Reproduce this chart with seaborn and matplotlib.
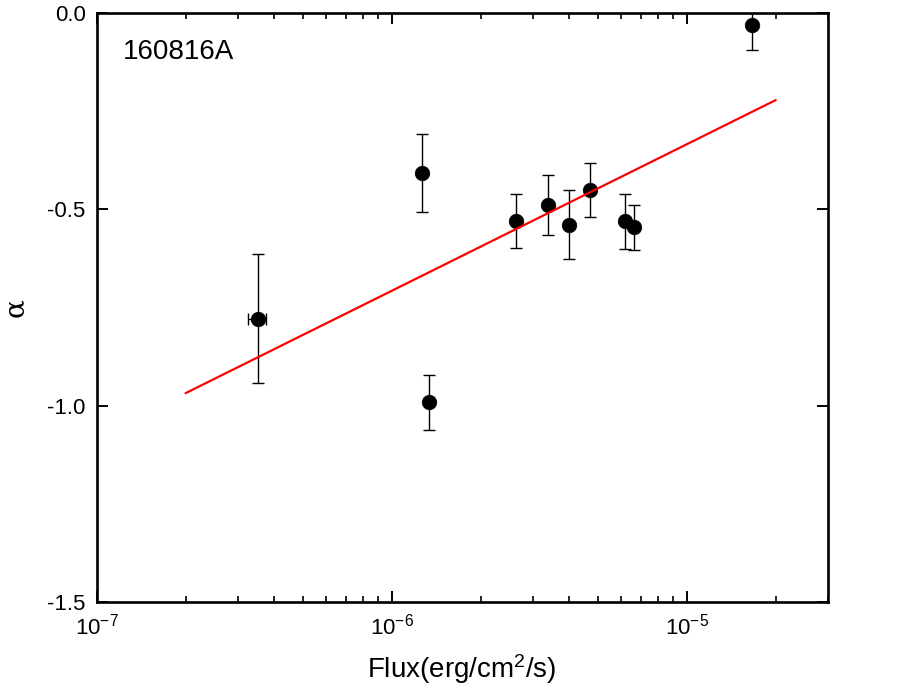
import matplotlib
matplotlib.use("Agg")
import matplotlib.pyplot as plt
import matplotlib.ticker as mticker
import numpy as np
import pandas as pd
import seaborn as sns

# data
flux = [3.51e-7, 1.34e-6, 1.27e-6, 2.64e-6, 3.38e-6, 3.98e-6, 4.68e-6, 6.15e-6, 6.61e-6, 1.66e-5]
flux_err = [0.25e-7, 0, 0, 0, 0, 0, 0, 0, 0, 0]
alpha = [-0.778, -0.991, -0.408, -0.530, -0.489, -0.539, -0.451, -0.530, -0.546, -0.032]
alpha_err = [0.164, 0.070, 0.100, 0.068, 0.077, 0.087, 0.068, 0.070, 0.058, 0.062]

# linear fit in log flux
fit_flux = [2e-7, 2e-5]
fit_alpha = [-0.968, -0.222]

grb_name = "160816A"

sns.set_theme(style="ticks")
plt.rcParams['font.family'] = ['Liberation Sans', 'DejaVu Sans']
plt.rcParams['mathtext.fontset'] = 'custom'
plt.rcParams['mathtext.rm'] = 'Liberation Sans'
plt.rcParams['mathtext.it'] = 'Liberation Sans:italic'
plt.rcParams['mathtext.default'] = 'regular'
plt.rcParams['axes.unicode_minus'] = False
for key in ['text.color', 'axes.labelcolor', 'xtick.color', 'ytick.color', 'axes.edgecolor']:
    plt.rcParams[key] = 'black'

df = pd.DataFrame({"flux": flux, "alpha": alpha})
fit_df = pd.DataFrame({"flux": fit_flux, "alpha": fit_alpha})

fig = plt.figure(figsize=(9.17, 6.95), dpi=100)
ax = fig.add_axes([0.1055, 0.1335, 0.7971, 0.848])

ax.errorbar(flux, alpha, xerr=flux_err, yerr=alpha_err, fmt="none",
            ecolor="black", elinewidth=1.0, capsize=4.5, capthick=1.0, zorder=2)
sns.scatterplot(data=df, x="flux", y="alpha", ax=ax, color="black", s=110,
                edgecolor="black", linewidth=0.5, zorder=3)
sns.lineplot(data=fit_df, x="flux", y="alpha", ax=ax, color="red", linewidth=1.6, zorder=4)

ax.set_xscale("log")
ax.set_xlim(1e-7, 3e-5)
ax.set_ylim(-1.5, 0.0)
ax.yaxis.set_major_locator(mticker.MultipleLocator(0.5))
ax.yaxis.set_major_formatter(mticker.FormatStrFormatter("%.1f"))
ax.xaxis.set_major_locator(mticker.LogLocator(base=10, numticks=10))
ax.xaxis.set_minor_locator(mticker.LogLocator(base=10, subs=np.arange(2, 10), numticks=10))
ax.xaxis.set_minor_formatter(mticker.NullFormatter())

for s in ax.spines.values():
    s.set_visible(True)
    s.set_linewidth(1.9)
    s.set_color("black")

ax.tick_params(which="both", direction="in", top=True, right=True, colors="black")
ax.tick_params(which="major", length=8, width=1.4, labelsize=16, pad=8)
ax.tick_params(which="minor", length=4, width=1.2)
ax.tick_params(axis="y", which="minor", left=False, right=False)

ax.set_xlabel(r"Flux(erg/cm$^{2}$/s)", fontsize=20, labelpad=9)
ax.set_ylabel("α", fontsize=20, family=['DejaVu Serif', 'DejaVu Sans'])
ax.yaxis.set_label_coords(-0.093, 0.5)
ax.text(0.036, 0.955, grb_name, transform=ax.transAxes, fontsize=20,
        ha="left", va="top")

fig.savefig("out.png", dpi=100)
